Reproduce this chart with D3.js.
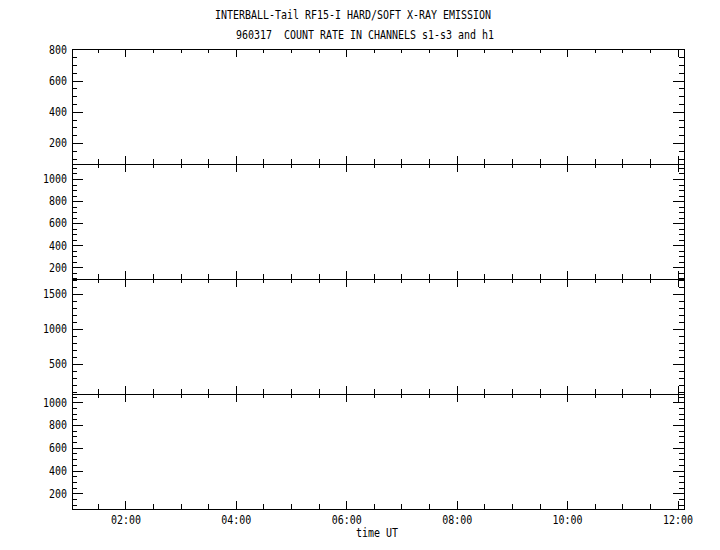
<!DOCTYPE html>
<html>
<head>
<meta charset="utf-8">
<script src="https://cdn.jsdelivr.net/npm/d3@7"></script>
<style>
  body { margin: 0; background: #fff; }
  svg { display: block; }
  text { font-family: "DejaVu Sans Mono", monospace; font-size: 12px; fill: #000; white-space: pre; }
  .domain, .tick line { stroke: #000; stroke-width: 1; shape-rendering: crispEdges; }
</style>
</head>
<body>
<svg id="chart" width="720" height="550"></svg>
<script>
// Chart text
var TITLE_LINES = ["INTERBALL-Tail RF15-I HARD/SOFT X-RAY EMISSION",
                   "960317  COUNT RATE IN CHANNELS s1-s3 and h1"];
var X_LABEL = "time UT";

// Channels, one panel each (top to bottom)
var CHANNELS = ["s1", "s2", "s3", "h1"];

// Count rate axis ranges
var Y_MIN = [66, 94, 71, 62];
var Y_MAX = [802, 1136, 1714, 1073];
var Y_MAJOR = [200, 200, 500, 200];
var Y_MINOR = [50, 50, 100, 50];

// Time range of the plot (UT, 17 March 1996)
var TIME_START = [1, 2];
var TIME_END = [12, 7];

// Count rate samples per channel: nothing was plotted in this file
var COUNT_RATES = [[], [], [], []];

var CHAR_W = 6;

var LEFT = 72;
var RIGHT = 684;
var TOP = 49;
var PANEL_H = 115;

var svg = d3.select("#chart");

var xScale = d3.scaleUtc()
    .domain([new Date(Date.UTC(1996, 2, 17, TIME_START[0], TIME_START[1])),
             new Date(Date.UTC(1996, 2, 17, TIME_END[0], TIME_END[1]))])
    .range([LEFT, RIGHT]);

// squeeze each label so it looks like the old fixed 6px plotter font
function fixWidth(sel) {
  sel.attr("textLength", function () { return this.textContent.length * CHAR_W; })
    .attr("lengthAdjust", "spacingAndGlyphs")
    .attr("xml:space", "preserve");
}

function drawPanel(i) {
  var top = TOP + i * PANEL_H;
  var bottom = top + PANEL_H;
  var isLast = (i == CHANNELS.length - 1);

  var yScale = d3.scaleLinear()
      .domain([Y_MIN[i], Y_MAX[i]])
      .range([bottom, top]);

  var majorY = d3.range(Math.ceil(Y_MIN[i] / Y_MAJOR[i]) * Y_MAJOR[i], Y_MAX[i] + 1, Y_MAJOR[i]);
  var minorY = d3.range(Math.ceil(Y_MIN[i] / Y_MINOR[i]) * Y_MINOR[i], Y_MAX[i] + 1, Y_MINOR[i])
      .filter(function (v) { return v % Y_MAJOR[i] != 0; });

  var g = svg.append("g").attr("class", "panel-" + CHANNELS[i]);

  // ##### Y axes, ticks pointing into the panel #####
  g.append("g")
    .attr("transform", "translate(" + LEFT + ",0)")
    .call(d3.axisLeft(yScale).tickValues(minorY).tickSize(-5).tickFormat(""))
    .call(function (a) { a.select(".domain").remove(); });

  var yAxis = g.append("g")
    .attr("transform", "translate(" + LEFT + ",0)")
    .call(d3.axisLeft(yScale).tickValues(majorY).tickSizeInner(-11).tickSizeOuter(0)
      .tickPadding(5).tickFormat(d3.format("d")));
  yAxis.selectAll("text").call(fixWidth);

  g.append("g")
    .attr("transform", "translate(" + RIGHT + ",0)")
    .call(d3.axisRight(yScale).tickValues(minorY).tickSize(-5).tickFormat(""))
    .call(function (a) { a.select(".domain").remove(); });

  g.append("g")
    .attr("transform", "translate(" + RIGHT + ",0)")
    .call(d3.axisRight(yScale).tickValues(majorY).tickSizeInner(-11).tickSizeOuter(0).tickFormat(""));

  // ##### Time axes on top and bottom of every panel #####
  var majorX = d3.utcHour.every(2).range(xScale.domain()[0], xScale.domain()[1]);
  var minorX = d3.utcMinute.every(30).range(xScale.domain()[0], xScale.domain()[1])
      .filter(function (d) { return d.getUTCHours() % 2 != 0 || d.getUTCMinutes() != 0; });

  g.append("g")
    .attr("transform", "translate(0," + top + ")")
    .call(d3.axisTop(xScale).tickValues(minorX).tickSize(-4).tickFormat(""))
    .call(function (a) { a.select(".domain").remove(); });
  g.append("g")
    .attr("transform", "translate(0," + top + ")")
    .call(d3.axisTop(xScale).tickValues(majorX).tickSizeInner(-8).tickSizeOuter(0).tickFormat(""));

  g.append("g")
    .attr("transform", "translate(0," + bottom + ")")
    .call(d3.axisBottom(xScale).tickValues(minorX).tickSize(-5).tickFormat(""))
    .call(function (a) { a.select(".domain").remove(); });
  var xAxis = g.append("g")
    .attr("transform", "translate(0," + bottom + ")")
    .call(d3.axisBottom(xScale).tickValues(majorX).tickSizeInner(-8).tickSizeOuter(0)
      .tickPadding(6).tickFormat(isLast ? d3.utcFormat("%H:%M") : ""));
  xAxis.selectAll("text").call(fixWidth);

  // ##### Count rate trace #####
  var line = d3.line()
      .x(function (d) { return xScale(d[0]); })
      .y(function (d) { return yScale(d[1]); });

  if (COUNT_RATES[i].length > 0) {
    g.append("path")
      .datum(COUNT_RATES[i])
      .attr("fill", "none")
      .attr("stroke", "#000")
      .attr("d", line);
  }
}

for (var i = 0; i < CHANNELS.length; i++) {
  drawPanel(i);
}

// ##### Titles #####
svg.append("text")
  .attr("x", 353).attr("y", 19)
  .attr("text-anchor", "middle")
  .text(TITLE_LINES[0])
  .call(fixWidth);

svg.append("text")
  .attr("x", 365).attr("y", 39)
  .attr("text-anchor", "middle")
  .text(TITLE_LINES[1])
  .call(fixWidth);

svg.append("text")
  .attr("x", 377).attr("y", 537)
  .attr("text-anchor", "middle")
  .text(X_LABEL)
  .call(fixWidth);
</script>
</body>
</html>
